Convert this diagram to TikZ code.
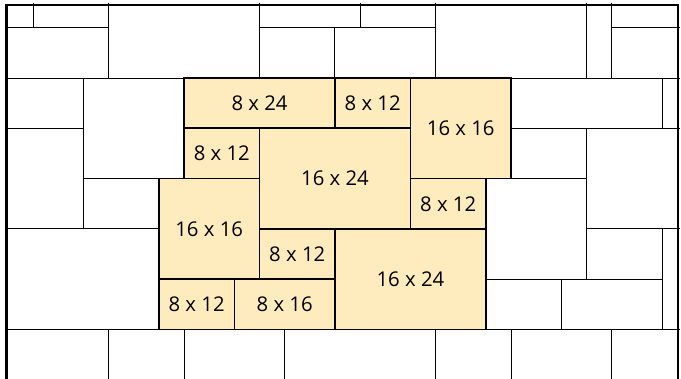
\documentclass[tikz,border=0pt]{standalone}
\usepackage{fontspec}
\setmainfont{Open Sans}
\definecolor{tilefill}{RGB}{255,236,190}
\begin{document}
\begin{tikzpicture}[x=25.15pt,y=-25.15pt,
  thinline/.style={line width=1pt, draw=black},
  tileedge/.style={draw=black, line width=1.7pt, fill=tilefill, line join=miter},
  lbl/.style={font=\fontsize{20.3}{24}\selectfont, inner sep=0pt},
  border/.style={line width=2.5pt, draw=black, line join=miter}]
\clip (-0.3161,-1.1014) rectangle (26.7555,13.9284);
\fill[white] (-0.3161,-1.1014) rectangle (26.7555,13.9284);
% top row
\draw[thinline] (-0.1,0) -- (4,0);
\draw[thinline] (1,-1) -- (1,0);
\draw[thinline] (4,-1) -- (4,2);
\draw[thinline] (10,-1) -- (10,2);
\draw[thinline] (10,0) -- (17,0);
\draw[thinline] (14,-1) -- (14,0);
\draw[thinline] (13,0) -- (13,2);
\draw[thinline] (17,-1) -- (17,2);
\draw[thinline] (23,-1) -- (23,2);
\draw[thinline] (24,-1) -- (24,2);
\draw[thinline] (24,0) -- (26.7,0);
\draw[thinline] (-0.1,2) -- (26.7,2);
% left side
\draw[thinline] (3,2) -- (3,8);
\draw[thinline] (-0.1,4) -- (3,4);
\draw[thinline] (3,6) -- (6,6);
\draw[thinline] (-0.1,8) -- (6,8);
% right side
\draw[thinline] (26,2) -- (26,4);
\draw[thinline] (20,4) -- (26.7,4);
\draw[thinline] (23,4) -- (23,10);
\draw[thinline] (19,6) -- (23,6);
\draw[thinline] (23,8) -- (26.7,8);
\draw[thinline] (26,8) -- (26,12);
\draw[thinline] (19,10) -- (26,10);
\draw[thinline] (22,10) -- (22,12);
% bottom row
\draw[thinline] (-0.1,12) -- (26.7,12);
\foreach \c in {4,7,11,17,20,24} \draw[thinline] (\c,12) -- (\c,14.5);
% tiles
\newcommand{\tile}[6]{%
  \draw[tileedge] (#2,#3) rectangle (#4,#5);
  \node[lbl] (#1) at ({(#2+#4)/2},{(#3+#5)/2}) {#6};}
\tile{ta}{7}{2}{13}{4}{8 x 24}
\tile{tb}{13}{2}{16}{4}{8 x 12}
\tile{tc}{16}{2}{20}{6}{16 x 16}
\tile{td}{7}{4}{10}{6}{8 x 12}
\tile{te}{10}{4}{16}{8}{16 x 24}
\tile{tf}{16}{6}{19}{8}{8 x 12}
\tile{tg}{6}{6}{10}{10}{16 x 16}
\tile{th}{10}{8}{13}{10}{8 x 12}
\tile{ti}{13}{8}{19}{12}{16 x 24}
\tile{tj}{6}{10}{9}{12}{8 x 12}
\tile{tk}{9}{10}{13}{12}{8 x 16}
% outer border
\draw[border] (-0.066,14.5) -- (-0.066,-0.903) -- (26.64,-0.903) -- (26.64,14.5);
\end{tikzpicture}
\end{document}
